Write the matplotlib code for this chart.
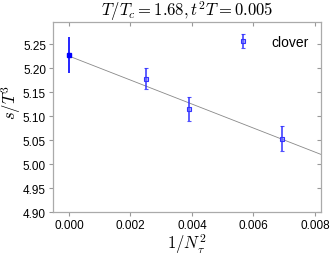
import matplotlib
matplotlib.use("Agg")
import matplotlib.pyplot as plt
import numpy as np

plt.rcParams['mathtext.fontset'] = 'cm'
plt.rcParams['font.family'] = ['Liberation Sans', 'DejaVu Sans']

x_cont = [0.0]
y_cont = [5.227]
e_cont = [0.038]

x_data = [0.0025, 0.00391, 0.00694]
y_data = [5.178, 5.115, 5.053]
e_data = [0.022, 0.025, 0.026]

fit_x = [0.0, 0.0082]
fit_intercept = 5.225
fit_slope = -25.0

fig = plt.figure(figsize=(3.32, 2.55), dpi=100)
ax = fig.add_axes([53/332, 1-213/255, (321-53)/332, (213-23)/255])

fx = np.array(fit_x)
ax.plot(fx, fit_intercept + fit_slope*fx, color='#888888', lw=0.6, zorder=1)

ax.errorbar(x_data, y_data, yerr=e_data, fmt='s', ms=3, mfc=(0.45, 0.45, 1.0, 0.6),
            mec='#3333ff', mew=0.8, ecolor=(0.2, 0.2, 1.0, 0.85), elinewidth=1.3, capsize=1.2,
            capthick=0.9, label='clover', zorder=3)
ax.errorbar(x_cont, y_cont, yerr=e_cont, fmt='s', ms=3.4, color='#0000ff',
            elinewidth=1.2, capsize=0, zorder=3)

ax.set_xlim(-0.00052, 0.0082)
ax.set_ylim(4.90, 5.296)
ax.set_xticks([0, 0.002, 0.004, 0.006, 0.008])
ax.set_xticklabels(['0.000', '0.002', '0.004', '0.006', '0.008'])
ax.set_yticks(np.arange(4.90, 5.26, 0.05))
ax.set_yticklabels(['%.2f' % v for v in np.arange(4.90, 5.26, 0.05)])
ax.tick_params(axis='both', labelsize=8.5, direction='out', length=3, color='#999999', width=0.8, pad=2)
for s in ax.spines.values():
    s.set_color('#aaaaaa')
    s.set_linewidth(0.9)
sec_x = ax.secondary_xaxis('top')
sec_x.set_xticks([0, 0.002, 0.004, 0.006, 0.008])
sec_x.tick_params(direction='in', length=3, labeltop=False, color='#999999')
sec_x.spines['top'].set_visible(False)
sec_y = ax.secondary_yaxis('right')
sec_y.set_yticks(list(np.arange(4.90, 5.26, 0.05)))
sec_y.tick_params(direction='in', length=3, labelright=False, color='#999999')
sec_y.spines['right'].set_visible(False)

ax.set_xlabel(r'$1/N_\tau^2$', fontsize=12, labelpad=0)
ax.set_ylabel(r'$s/T^3$', fontsize=12)
ax.yaxis.set_label_coords(-0.112, 0.58)
ax.set_title(r'$T/T_c=1.68, t^2T=0.005$', fontsize=12, pad=2)

leg = ax.legend(loc='upper right', frameon=False, fontsize=10, handlelength=1.0,
                handletextpad=1.5, borderaxespad=0.5)

fig.savefig('out.png', dpi=100)
